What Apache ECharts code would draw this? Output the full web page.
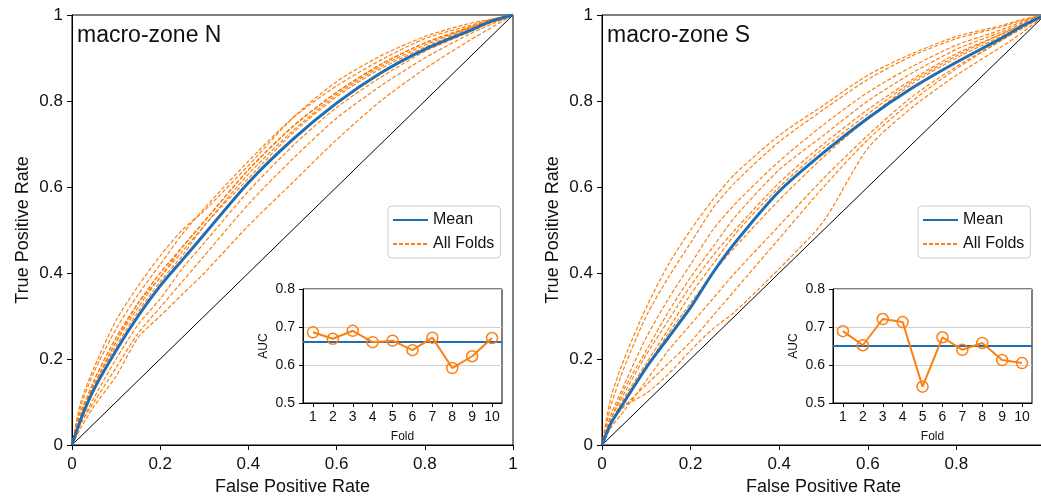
<!DOCTYPE html>
<html><head><meta charset="utf-8">
<script src="https://cdn.jsdelivr.net/npm/echarts@6/dist/echarts.min.js"></script>
<style>html,body{margin:0;padding:0;background:#fff}#c{width:1041px;height:500px}</style>
</head><body><div id="c"></div><script>
// ---- data ----
const fpr = [0, .02, .05, .1, .15, .2, .25, .3, .4, .5, .6, .7, .8, .9, .95, 1];
const meanN = [0, .06, .13, .22, .30, .37, .43, .49, .61, .71, .795, .865, .92, .963, .985, 1];
const foldN1 = [0, .09, .17, .27, .35, .42, .49, .55, .66, .76, .835, .895, .945, .975, .99, 1];
const foldN2 = [0, .07, .15, .25, .33, .40, .46, .52, .64, .74, .82, .885, .935, .97, .988, 1];
const foldN3 = [0, .10, .18, .29, .37, .44, .50, .545, .65, .76, .845, .905, .95, .98, .99, 1];
const foldN4 = [0, .06, .14, .23, .31, .38, .44, .51, .62, .725, .81, .875, .925, .968, .985, 1];
const foldN5 = [0, .08, .14, .24, .32, .39, .45, .51, .63, .73, .815, .88, .93, .97, .987, 1];
const foldN6 = [0, .05, .11, .20, .28, .34, .41, .47, .59, .695, .785, .855, .915, .96, .982, 1];
const foldN7 = [0, .07, .15, .25, .33, .40, .46, .52, .64, .74, .82, .885, .935, .97, .988, 1];
const foldN8 = [0, .04, .09, .16, .25, .30, .35, .40, .51, .61, .71, .80, .875, .94, .97, 1];
const foldN9 = [0, .05, .10, .18, .26, .32, .38, .44, .56, .665, .76, .835, .90, .955, .978, 1];
const foldN10 = [0, .07, .14, .24, .33, .39, .46, .52, .64, .74, .82, .885, .935, .972, .988, 1];

const meanS = [0, .05, .10, .18, .25, .32, .40, .47, .59, .68, .76, .83, .89, .945, .975, 1];
const foldS1 = [0, .07, .14, .25, .34, .42, .50, .56, .66, .745, .82, .88, .93, .965, .985, 1];
const foldS2 = [0, .05, .11, .19, .27, .35, .42, .49, .60, .69, .77, .845, .905, .955, .978, 1];
const foldS3 = [0, .11, .20, .32, .42, .50, .57, .63, .72, .79, .86, .91, .95, .975, .99, 1];
const foldS4 = [0, .09, .18, .30, .39, .47, .55, .61, .705, .78, .85, .905, .945, .972, .988, 1];
const foldS5 = [0, .05, .09, .12, .165, .22, .27, .31, .41, .52, .69, .785, .86, .925, .96, 1];
const foldS6 = [0, .06, .13, .22, .31, .39, .46, .53, .64, .72, .80, .865, .92, .96, .982, 1];
const foldS7 = [0, .05, .10, .18, .26, .33, .40, .46, .57, .67, .76, .84, .90, .95, .975, 1];
const foldS8 = [0, .06, .12, .21, .29, .37, .44, .50, .61, .70, .78, .85, .91, .955, .978, 1];
const foldS9 = [0, .04, .08, .15, .22, .28, .34, .40, .51, .62, .72, .81, .88, .94, .97, 1];
const foldS10 = [0, .05, .09, .14, .19, .24, .30, .36, .48, .60, .71, .80, .875, .94, .97, 1];

const foldLabels = ['1','2','3','4','5','6','7','8','9','10'];
const aucN = [0.686, 0.669, 0.690, 0.660, 0.664, 0.639, 0.672, 0.592, 0.623, 0.671];
const aucS = [0.689, 0.652, 0.721, 0.713, 0.543, 0.673, 0.640, 0.658, 0.613, 0.605];
const meanAucN = 0.657;
const meanAucS = 0.651;
const panelTitles = ['macro-zone N', 'macro-zone S'];

// ---- chart ----
const foldsN = [foldN1, foldN2, foldN3, foldN4, foldN5, foldN6, foldN7, foldN8, foldN9, foldN10];
const foldsS = [foldS1, foldS2, foldS3, foldS4, foldS5, foldS6, foldS7, foldS8, foldS9, foldS10];
const BLUE = '#1f6db3', ORANGE = '#ff7f0e';
const FONT = 'Liberation Sans';
const pairs = t => fpr.map((x, i) => [x, t[i]]);

const mainX = (gi) => ({
  type: 'value', gridIndex: gi, min: 0, max: 1, interval: 0.2,
  name: 'False Positive Rate', nameLocation: 'middle', nameGap: 32,
  nameTextStyle: {fontSize: 18, color: '#111', fontFamily: FONT},
  axisLine: {show: true, lineStyle: {color: '#000', width: 1}},
  axisTick: {show: true, inside: false, length: 5, lineStyle: {color: '#000'}},
  axisLabel: {fontSize: 17, color: '#111', fontFamily: FONT, margin: 11},
  splitLine: {show: false}
});
const mainY = (gi) => ({
  type: 'value', gridIndex: gi, min: 0, max: 1, interval: 0.2,
  name: 'True Positive Rate', nameLocation: 'middle', nameGap: 40,
  nameTextStyle: {fontSize: 18, color: '#111', fontFamily: FONT},
  axisLine: {show: true, lineStyle: {color: '#000', width: 1}},
  axisTick: {show: true, inside: false, length: 5, lineStyle: {color: '#000'}},
  axisLabel: {fontSize: 17, color: '#111', fontFamily: FONT, margin: 9},
  splitLine: {show: false}
});
const insetX = (gi) => ({
  type: 'category', gridIndex: gi, data: foldLabels, boundaryGap: true,
  name: 'Fold', nameLocation: 'middle', nameGap: 28,
  nameTextStyle: {fontSize: 12, color: '#111', fontFamily: FONT},
  axisLine: {show: true, lineStyle: {color: '#000', width: 1}},
  axisTick: {show: true, alignWithLabel: true, length: 4, lineStyle: {color: '#000'}},
  axisLabel: {fontSize: 14, color: '#111', fontFamily: FONT, margin: 7, interval: 0},
  splitLine: {show: false}
});
const insetY = (gi) => ({
  type: 'value', gridIndex: gi, min: 0.5, max: 0.8, interval: 0.1,
  name: 'AUC', nameLocation: 'middle', nameGap: 33,
  nameTextStyle: {fontSize: 12, color: '#111', fontFamily: FONT},
  axisLine: {show: true, lineStyle: {color: '#000', width: 1}},
  axisTick: {show: true, length: 4, lineStyle: {color: '#000'}},
  axisLabel: {fontSize: 14, color: '#111', fontFamily: FONT, margin: 8},
  splitLine: {show: true, lineStyle: {color: '#d0d0d0', width: 1}}
});

const series = [];
[[foldsN, meanN], [foldsS, meanS]].forEach(([folds, mean], gi) => {
  folds.forEach(f => series.push({
    type: 'line', name: 'All Folds', xAxisIndex: gi, yAxisIndex: gi,
    data: pairs(f), symbol: 'none', smooth: 0.25,
    lineStyle: {color: ORANGE, width: 1.2, type: [4, 2]}, itemStyle: {color: ORANGE},
    z: 2, silent: true
  }));
  series.push({
    type: 'line', name: 'Mean', xAxisIndex: gi, yAxisIndex: gi,
    data: pairs(mean), symbol: 'none', smooth: 0.25,
    lineStyle: {color: BLUE, width: 3}, itemStyle: {color: BLUE}, z: 3, silent: true
  });
  series.push({
    type: 'line', name: 'chance', xAxisIndex: gi, yAxisIndex: gi,
    data: [[0, 0], [1, 1]], symbol: 'none',
    lineStyle: {color: '#000', width: 1}, z: 1, silent: true
  });
});
[[aucN, meanAucN], [aucS, meanAucS]].forEach(([auc, m], k) => {
  const gi = 2 + k;
  series.push({
    type: 'line', name: 'AUC' + k, xAxisIndex: gi, yAxisIndex: gi,
    data: auc, symbol: 'circle', symbolSize: 11,
    lineStyle: {color: ORANGE, width: 2},
    itemStyle: {color: 'rgba(255,255,255,0)', borderColor: ORANGE, borderWidth: 1.5},
    z: 5, silent: true,
    markLine: {
      silent: true, symbol: 'none', label: {show: false},
      lineStyle: {color: BLUE, width: 2, type: 'solid'},
      data: [{yAxis: m}]
    }
  });
});

const legendCommon = {
  orient: 'vertical', data: ['Mean', 'All Folds'],
  borderColor: '#cccccc', borderWidth: 1, borderRadius: 4,
  padding: [6, 6, 6, 4], itemWidth: 35, itemHeight: 14, itemGap: 8,
  textStyle: {fontSize: 16, color: '#111', fontFamily: FONT},
  itemStyle: {opacity: 0},
  backgroundColor: '#fff', selectedMode: false
};

const gridCommon = {show: true, borderColor: '#000', borderWidth: 1, outerBoundsMode: 'none', containLabel: false};
const option = {
  animation: false,
  backgroundColor: '#fff',
  title: [
    {text: panelTitles[0], left: 77, top: 24, padding: 0, textStyle: {fontSize: 23, fontWeight: 'normal', color: '#111', fontFamily: FONT}},
    {text: panelTitles[1], left: 607, top: 24, padding: 0, textStyle: {fontSize: 23, fontWeight: 'normal', color: '#111', fontFamily: FONT}}
  ],
  legend: [
    Object.assign({left: 388, top: 206}, legendCommon),
    Object.assign({left: 918, top: 206}, legendCommon)
  ],
  grid: [
    Object.assign({left: 72, top: 15, width: 441, height: 430, backgroundColor: 'transparent'}, gridCommon),
    Object.assign({left: 602, top: 15, width: 443, height: 430, backgroundColor: 'transparent'}, gridCommon),
    Object.assign({left: 303, top: 289, width: 199, height: 114, backgroundColor: '#fff'}, gridCommon),
    Object.assign({left: 833, top: 289, width: 199, height: 114, backgroundColor: '#fff'}, gridCommon)
  ],
  xAxis: [mainX(0), mainX(1), insetX(2), insetX(3)],
  yAxis: [mainY(0), mainY(1), insetY(2), insetY(3)],
  series: series
};
const chart = echarts.init(document.getElementById('c'), null, {renderer: 'canvas'});
chart.setOption(option);
</script></body></html>
